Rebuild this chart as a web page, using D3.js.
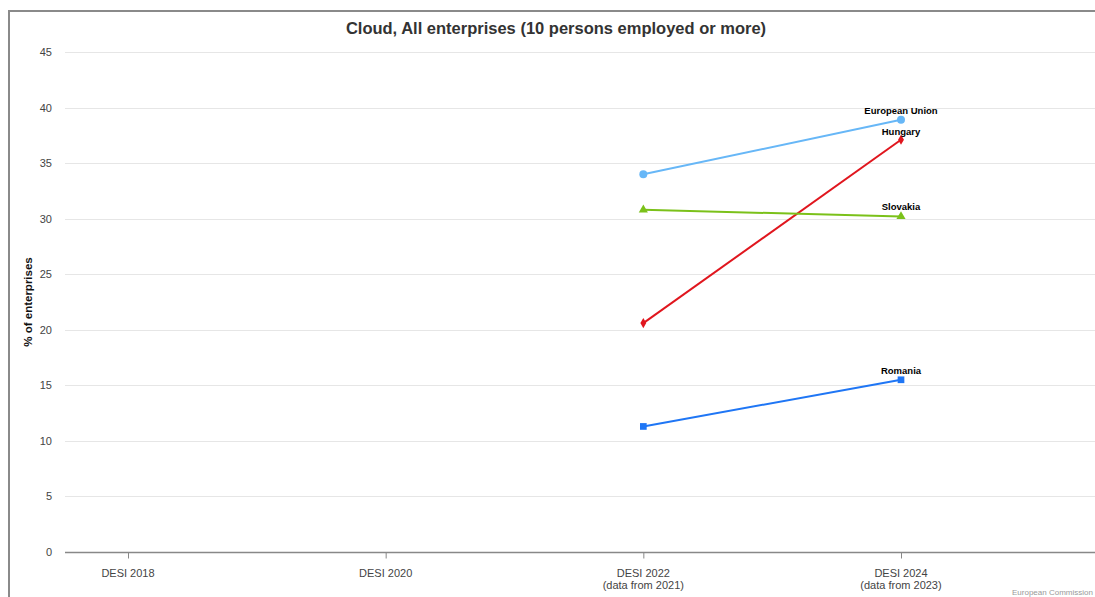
<!DOCTYPE html>
<html>
<head>
<meta charset="utf-8">
<script src="https://cdn.jsdelivr.net/npm/d3@7"></script>
<style>
  body { margin: 0; background: #fff; }
  svg { display: block; font-family: "Liberation Sans", Arial, sans-serif; }
</style>
</head>
<body>
<div id="chart"></div>
<script>
const width = 1095;
const height = 597;

// categories on the x axis (second line shown under the first)
const categories = ['DESI 2018', 'DESI 2020', 'DESI 2022', 'DESI 2024'];
const categorySub = ['', '', '(data from 2021)', '(data from 2023)'];
const yTicks = [0, 5, 10, 15, 20, 25, 30, 35, 40, 45];

// series values, only the last two DESI editions have data
const euValues = [null, null, 34.0, 38.9];
const huValues = [null, null, 20.6, 37.1];
const skValues = [null, null, 30.8, 30.2];
const roValues = [null, null, 11.3, 15.5];

const series = [
  { name: 'European Union', values: euValues, color: '#67b7f7', symbol: d3.symbolCircle, size: 50, dy: -6 },
  { name: 'Hungary', values: huValues, color: '#e0161e', symbol: d3.symbolDiamond, size: 30, dy: -5 },
  { name: 'Slovakia', values: skValues, color: '#7bc11a', symbol: d3.symbolTriangle, size: 36, dy: -6 },
  { name: 'Romania', values: roValues, color: '#1f76f5', symbol: d3.symbolSquare, size: 45, dy: -6 },
];

const margin = { top: 52, right: 0, bottom: 45, left: 65 };

const svg = d3.select('#chart')
  .append('svg')
  .attr('width', width)
  .attr('height', height);

// frame around the chart
svg.append('path')
  .attr('d', `M9,${height} V11 H${width}`)
  .attr('fill', 'none')
  .attr('stroke', '#8a8a8a')
  .attr('stroke-width', 2);

const xScale = d3.scalePoint()
  .domain(categories)
  .range([128, 901]);

const yScale = d3.scaleLinear()
  .domain([0, 45])
  .range([height - margin.bottom, margin.top]);

// grid lines
svg.append('g')
  .attr('class', 'grid')
  .selectAll('line')
  .data(yTicks.filter(d => d > 0))
  .join('line')
  .attr('x1', margin.left)
  .attr('x2', width)
  .attr('y1', d => Math.round(yScale(d)) + 0.5)
  .attr('y2', d => Math.round(yScale(d)) + 0.5)
  .attr('stroke', '#e6e6e6');

// y axis labels
const yAxis = d3.axisLeft(yScale)
  .tickValues(yTicks)
  .tickSize(0)
  .tickPadding(13);

svg.append('g')
  .attr('transform', `translate(${margin.left},0)`)
  .call(yAxis)
  .call(g => g.select('.domain').remove())
  .call(g => g.selectAll('text')
    .attr('fill', '#444')
    .style('font-size', '11px')
    .style('font-family', '"Liberation Sans", Arial, sans-serif'));

// x axis
const xAxis = d3.axisBottom(xScale)
  .tickSize(6)
  .tickFormat('');

const xg = svg.append('g')
  .attr('transform', `translate(0,${Math.round(yScale(0)) + 0.5})`)
  .call(xAxis);
xg.select('.domain').remove();
xg.selectAll('.tick line').attr('stroke', '#888');
xg.append('line')
  .attr('x1', margin.left)
  .attr('x2', width)
  .attr('stroke', '#888')
  .attr('stroke-width', 1.5);

categories.forEach((c, i) => {
  const t = xg.append('text')
    .attr('x', xScale(c))
    .attr('y', 24)
    .attr('text-anchor', 'middle')
    .attr('fill', '#444')
    .style('font-size', '11px');
  t.append('tspan').attr('x', xScale(c)).text(c);
  if (categorySub[i]) {
    t.append('tspan').attr('x', xScale(c)).attr('dy', 12.5).text(categorySub[i]);
  }
});

// title
svg.append('text')
  .attr('x', 556)
  .attr('y', 34)
  .attr('text-anchor', 'middle')
  .attr('fill', '#333')
  .style('font-size', '16.5px')
  .style('font-weight', 'bold')
  .text('Cloud, All enterprises (10 persons employed or more)');

// y axis title
svg.append('text')
  .attr('transform', `translate(32,${(margin.top + yScale(0)) / 2}) rotate(-90)`)
  .attr('text-anchor', 'middle')
  .attr('fill', '#111')
  .style('font-size', '11.5px')
  .style('font-weight', 'bold')
  .text('% of enterprises');

// lines and markers
const line = d3.line()
  .defined(d => d.v != null)
  .x(d => xScale(d.c))
  .y(d => yScale(d.v));

series.forEach(s => {
  const pts = categories.map((c, i) => ({ c, v: s.values[i] }));
  const g = svg.append('g');
  g.append('path')
    .datum(pts)
    .attr('d', line)
    .attr('fill', 'none')
    .attr('stroke', s.color)
    .attr('stroke-width', 2);
  g.selectAll('path.marker')
    .data(pts.filter(d => d.v != null))
    .join('path')
    .attr('class', 'marker')
    .attr('transform', d => `translate(${xScale(d.c)},${yScale(d.v)})`)
    .attr('d', d3.symbol().type(s.symbol).size(s.size))
    .attr('fill', s.color);
  const last = pts[pts.length - 1];
  g.append('text')
    .attr('x', xScale(last.c))
    .attr('y', yScale(last.v) + s.dy)
    .attr('text-anchor', 'middle')
    .attr('fill', '#000')
    .style('font-size', '9.5px')
    .style('font-weight', 'bold')
    .text(s.name);
});

// credit
svg.append('text')
  .attr('x', 1012)
  .attr('y', 595)
  .attr('fill', '#999')
  .style('font-size', '8px')
  .text('European Commission');
</script>
</body>
</html>
